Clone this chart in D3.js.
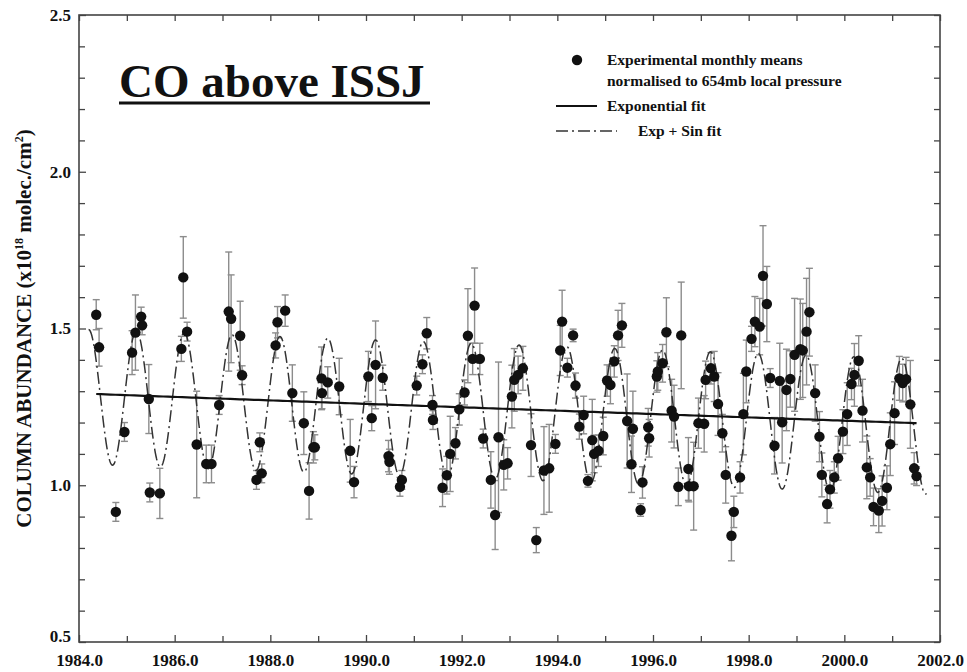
<!DOCTYPE html>
<html>
<head>
<meta charset="utf-8">
<script src="https://cdn.jsdelivr.net/npm/d3@7"></script>
<style>
  html, body { margin: 0; padding: 0; background: #fff; }
  svg { display: block; }
  text { font-family: "Liberation Serif", "Times New Roman", serif; font-weight: bold; fill: #111; }
</style>
</head>
<body>
<svg id="chart" width="967" height="672"></svg>
<script>
// Monthly mean CO column above ISSJ (decimal year), in 1e18 molec/cm2, with 1-sigma errors
const months = [
  1984.36,1984.42,1984.77,1984.95,1985.11,1985.18,1985.30,1985.32,1985.46,1985.48,1985.69,
  1986.14,1986.18,1986.26,1986.46,1986.66,1986.77,1986.93,1987.13,1987.18,1987.37,1987.41,
  1987.71,1987.78,1987.82,1988.11,1988.15,1988.31,1988.46,1988.70,1988.81,1988.90,1988.93,
  1989.07,1989.08,1989.20,1989.44,1989.67,1989.75,1990.05,1990.12,1990.20,1990.35,1990.47,
  1990.49,1990.71,1990.75,1991.06,1991.18,1991.27,1991.39,1991.40,1991.60,1991.69,1991.76,
  1991.87,1991.95,1992.06,1992.13,1992.23,1992.27,1992.38,1992.45,1992.61,1992.70,1992.77,
  1992.88,1992.96,1993.05,1993.10,1993.18,1993.28,1993.45,1993.56,1993.72,1993.83,1993.96,
  1994.06,1994.10,1994.21,1994.33,1994.38,1994.46,1994.55,1994.64,1994.73,1994.77,1994.86,
  1994.96,1995.04,1995.11,1995.19,1995.27,1995.35,1995.46,1995.55,1995.58,1995.74,1995.78,
  1995.90,1995.92,1996.08,1996.10,1996.20,1996.28,1996.39,1996.44,1996.53,1996.59,1996.74,
  1996.75,1996.85,1996.95,1997.07,1997.10,1997.21,1997.28,1997.36,1997.45,1997.52,1997.64,
  1997.69,1997.82,1997.89,1997.95,1998.06,1998.13,1998.23,1998.30,1998.38,1998.45,1998.54,
  1998.65,1998.70,1998.79,1998.87,1998.96,1999.08,1999.13,1999.21,1999.27,1999.39,1999.48,
  1999.53,1999.64,1999.70,1999.79,1999.87,1999.97,2000.06,2000.15,2000.21,2000.30,2000.38,
  2000.47,2000.54,2000.61,2000.72,2000.79,2000.89,2000.96,2001.05,2001.15,2001.22,2001.29,
  2001.38,2001.46,2001.51
];
const columns = [
  1.544,1.440,0.915,1.170,1.423,1.487,1.538,1.510,1.275,0.977,0.974,
  1.435,1.663,1.490,1.130,1.068,1.068,1.256,1.554,1.531,1.477,1.351,
  1.017,1.137,1.038,1.446,1.520,1.557,1.294,1.198,0.982,1.121,1.121,
  1.341,1.294,1.328,1.315,1.110,1.010,1.347,1.214,1.384,1.343,1.093,
  1.075,0.995,1.017,1.318,1.386,1.485,1.256,1.208,0.992,1.032,1.100,
  1.134,1.242,1.296,1.477,1.403,1.573,1.403,1.149,1.017,0.905,1.153,
  1.065,1.070,1.283,1.336,1.352,1.373,1.128,0.825,1.047,1.054,1.132,
  1.430,1.522,1.375,1.478,1.318,1.187,1.224,1.014,1.144,1.100,1.110,
  1.157,1.334,1.320,1.395,1.478,1.510,1.205,1.067,1.180,0.921,1.009,
  1.185,1.150,1.347,1.363,1.389,1.488,1.238,1.219,0.995,1.478,1.052,
  0.997,0.997,1.198,1.196,1.336,1.373,1.347,1.259,1.166,1.033,0.839,
  0.915,1.025,1.227,1.363,1.467,1.522,1.506,1.668,1.578,1.342,1.126,
  1.333,1.201,1.304,1.339,1.416,1.434,1.430,1.490,1.552,1.294,1.155,
  1.033,0.940,0.987,1.025,1.086,1.171,1.227,1.323,1.352,1.397,1.238,
  1.057,1.025,0.931,0.919,0.950,0.992,1.131,1.230,1.341,1.326,1.338,
  1.258,1.054,1.029
];
const errors = [
  0.048,0.060,0.030,0.030,0.070,0.120,0.030,0.030,0.110,0.030,0.080,
  0.040,0.130,0.030,0.170,0.060,0.060,0.030,0.190,0.140,0.110,0.030,
  0.030,0.030,0.030,0.040,0.050,0.050,0.090,0.100,0.090,0.050,0.040,
  0.100,0.050,0.050,0.090,0.100,0.050,0.080,0.040,0.140,0.040,0.050,
  0.040,0.030,0.030,0.030,0.030,0.050,0.030,0.030,0.060,0.060,0.120,
  0.050,0.050,0.040,0.150,0.050,0.120,0.050,0.030,0.090,0.110,0.240,
  0.080,0.050,0.100,0.100,0.060,0.070,0.100,0.040,0.140,0.140,0.030,
  0.080,0.100,0.030,0.020,0.040,0.040,0.060,0.020,0.130,0.060,0.050,
  0.060,0.050,0.060,0.050,0.080,0.070,0.150,0.090,0.120,0.020,0.050,
  0.060,0.060,0.050,0.060,0.060,0.110,0.100,0.100,0.060,0.170,0.100,
  0.050,0.140,0.080,0.090,0.060,0.050,0.080,0.100,0.060,0.090,0.080,
  0.050,0.050,0.130,0.100,0.040,0.080,0.090,0.160,0.120,0.030,0.090,
  0.120,0.130,0.130,0.090,0.180,0.160,0.150,0.170,0.140,0.090,0.080,
  0.070,0.060,0.060,0.050,0.070,0.070,0.100,0.050,0.100,0.080,0.100,
  0.100,0.060,0.060,0.070,0.080,0.070,0.100,0.100,0.070,0.060,0.070,
  0.140,0.050,0.030
];

// Fit parameters
const expFit = { a: 1.291, t0: 1984.36, rate: 0.004358, start: 1984.36, end: 2001.51 };
const sinFit = { offset: -0.01, amplitude: 0.215, phase: 0.20, start: 1984.2, end: 2001.72 };

// Axis ticks
const yearTicks = [1984, 1986, 1988, 1990, 1992, 1994, 1996, 1998, 2000, 2002];
const yearMinorTicks = [1985, 1987, 1989, 1991, 1993, 1995, 1997, 1999, 2001];
const columnTicks = [0.5, 1.0, 1.5, 2.0, 2.5];
const columnMinorTicks = [0.6,0.7,0.8,0.9,1.1,1.2,1.3,1.4,1.6,1.7,1.8,1.9,2.1,2.2,2.3,2.4];

const data = months.map((t, i) => ({ t, v: columns[i], e: errors[i] }));

const svg = d3.select("#chart");
const x = d3.scaleLinear().domain([1984, 2002]).range([79, 940]);
const y = d3.scaleLinear().domain([0.5, 2.5]).range([642, 15]);
const fmt = d3.format(".1f");

// Axes with inward ticks
function styleAxis(g) {
  g.select(".domain").remove();
  g.selectAll(".tick line").attr("stroke", "#444").attr("stroke-width", 1.3);
  g.selectAll(".tick text").style("font-size", "17px").style("font-family", "'Liberation Serif', serif").style("font-weight", "bold").attr("fill", "#111");
}
svg.append("g").attr("transform", `translate(0,${y(0.5)})`)
  .call(d3.axisBottom(x).tickValues(yearTicks).tickFormat(fmt).tickSizeInner(-7).tickSizeOuter(0).tickPadding(12))
  .call(styleAxis);
svg.append("g").attr("transform", `translate(0,${y(0.5)})`)
  .call(d3.axisBottom(x).tickValues(yearMinorTicks).tickFormat("").tickSizeInner(-6).tickSizeOuter(0))
  .call(styleAxis);
svg.append("g").attr("transform", `translate(0,${y(2.5)})`)
  .call(d3.axisTop(x).tickValues(yearTicks.concat(yearMinorTicks)).tickFormat("").tickSizeInner(-6).tickSizeOuter(0))
  .call(styleAxis);
const yAxisG = svg.append("g").attr("transform", `translate(${x(1984)},0)`)
  .call(d3.axisLeft(y).tickValues(columnTicks).tickFormat(fmt).tickSizeInner(-7).tickSizeOuter(0).tickPadding(8))
  .call(styleAxis);
// lowest value label sits just above the corner
yAxisG.selectAll(".tick text").filter(d => d === 0.5).attr("dy", "-0.05em");
svg.append("g").attr("transform", `translate(${x(1984)},0)`)
  .call(d3.axisLeft(y).tickValues(columnMinorTicks).tickFormat("").tickSizeInner(-6).tickSizeOuter(0))
  .call(styleAxis);
svg.append("g").attr("transform", `translate(${x(2002)},0)`)
  .call(d3.axisRight(y).tickValues(columnTicks.concat(columnMinorTicks)).tickFormat("").tickSizeInner(-6).tickSizeOuter(0))
  .call(styleAxis);

// Frame
svg.append("rect")
  .attr("x", x(1984)).attr("y", y(2.5))
  .attr("width", x(2002) - x(1984)).attr("height", y(0.5) - y(2.5))
  .attr("fill", "none").attr("stroke", "#444").attr("stroke-width", 1.6);

// Y axis title
const yTitle = svg.append("text")
  .attr("transform", `translate(31,${y(1.5)}) rotate(-90)`)
  .attr("text-anchor", "middle")
  .style("font-size", "21px");
yTitle.append("tspan").text("COLUMN ABUNDANCE (x10");
yTitle.append("tspan").attr("dy", -8).style("font-size", "12px").text("18");
yTitle.append("tspan").attr("dy", 8).text(" molec./cm");
yTitle.append("tspan").attr("dy", -8).style("font-size", "12px").text("2");
yTitle.append("tspan").attr("dy", 8).text(")");

// Error bars
const capW = 3.5;
const eb = svg.append("g").attr("stroke", "#8c8c8c").attr("stroke-width", 1.4);
data.forEach(d => {
  const cx = x(d.t), y1 = y(d.v + d.e), y2 = y(d.v - d.e);
  eb.append("line").attr("x1", cx).attr("x2", cx).attr("y1", y1).attr("y2", y2);
  eb.append("line").attr("x1", cx - capW).attr("x2", cx + capW).attr("y1", y1).attr("y2", y1);
  eb.append("line").attr("x1", cx - capW).attr("x2", cx + capW).attr("y1", y2).attr("y2", y2);
});

// Fits: exponential decay, and the same decay plus an annual cycle
const expValue = t => expFit.a * Math.exp(-expFit.rate * (t - expFit.t0));
const sinValue = t => expValue(t) + sinFit.offset + sinFit.amplitude * Math.cos(2 * Math.PI * (t - sinFit.phase));
const line = d3.line().x(d => x(d[0])).y(d => y(d[1]));

const sinPts = d3.range(sinFit.start, sinFit.end, 0.01).concat([sinFit.end]).map(t => [t, sinValue(t)]);
svg.append("path").attr("d", line(sinPts))
  .attr("fill", "none").attr("stroke", "#333").attr("stroke-width", 1.5)
  .attr("stroke-dasharray", "12,4,2,4");

const expPts = d3.range(expFit.start, expFit.end, 0.1).concat([expFit.end]).map(t => [t, expValue(t)]);
svg.append("path").attr("d", line(expPts))
  .attr("fill", "none").attr("stroke", "#111").attr("stroke-width", 2.2);

// Monthly means
svg.append("g").selectAll("circle").data(data).join("circle")
  .attr("cx", d => x(d.t)).attr("cy", d => y(d.v)).attr("r", 5.2)
  .attr("fill", "#111");

// Title
svg.append("text").attr("x", 119).attr("y", 97)
  .style("font-size", "47px").text("CO above ISSJ");
svg.append("line").attr("x1", 119).attr("x2", 430).attr("y1", 103).attr("y2", 103)
  .attr("stroke", "#111").attr("stroke-width", 3);

// Legend
const lg = svg.append("g").style("font-size", "15.5px");
lg.append("circle").attr("cx", 577).attr("cy", 60).attr("r", 5.2).attr("fill", "#111");
lg.append("text").attr("x", 607).attr("y", 65).text("Experimental monthly means");
lg.append("text").attr("x", 607).attr("y", 86).text("normalised to 654mb local pressure");
lg.append("line").attr("x1", 556).attr("x2", 597).attr("y1", 106).attr("y2", 106)
  .attr("stroke", "#111").attr("stroke-width", 2.2);
lg.append("text").attr("x", 607).attr("y", 111).text("Exponential fit");
lg.append("line").attr("x1", 556).attr("x2", 617).attr("y1", 131).attr("y2", 131)
  .attr("stroke", "#333").attr("stroke-width", 1.5).attr("stroke-dasharray", "12,4,2,4");
lg.append("text").attr("x", 638).attr("y", 136).text("Exp + Sin fit");
</script>
</body>
</html>
